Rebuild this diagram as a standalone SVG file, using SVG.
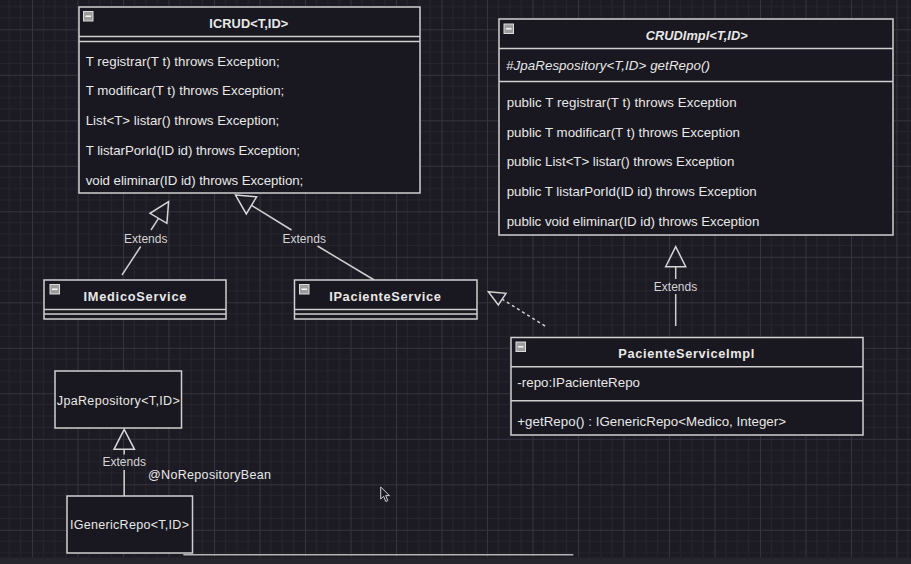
<svg xmlns="http://www.w3.org/2000/svg" width="911" height="564" viewBox="0 0 911 564">
<style>
.box{fill:#19171f;stroke:#cfcfcf;stroke-width:1.5}
.ln{stroke:#cfcfcf;stroke-width:1.5;fill:none}
.tri{fill:none;stroke:#d6d6d6;stroke-width:1.5;stroke-linejoin:miter}
.t{font-family:"Liberation Sans",Arial,sans-serif;font-size:13.3px;fill:#e8e8e8}
.s{font-size:12.5px}
.b{font-weight:bold;font-size:12.8px}
.i{font-style:italic}
.lbl{font-family:"Liberation Sans",Arial,sans-serif;font-size:12px;fill:#d4d4d4;text-anchor:middle}
.icon{fill:#9c9c9c;stroke:#dcdcdc;stroke-width:1}
.dash{stroke:#f2f2f2;stroke-width:1.6}
</style>
<defs>
<pattern id="grid" x="32" y="29.3" width="45.5" height="45.5" patternUnits="userSpaceOnUse">
<path d="M11.375 0V45.5M22.75 0V45.5M34.125 0V45.5M0 11.375H45.5M0 22.75H45.5M0 34.125H45.5" stroke="#26242d" stroke-width="1"/>
<path d="M0.5 0V45.5M0 0.5H45.5" stroke="#35333d" stroke-width="1"/>
</pattern>
<g id="minus">
<rect class="icon" x="0" y="0" width="9.5" height="9.5"/>
<line class="dash" x1="2" y1="4.75" x2="7.5" y2="4.75"/>
</g>
</defs>
<rect x="0" y="0" width="911" height="564" fill="#1c1a23"/>
<rect x="0" y="0" width="911" height="557" fill="url(#grid)"/>
<rect x="0" y="557.5" width="911" height="6.5" fill="#26242c"/>

<g id="connectors">
<!-- IMedicoService -> ICRUD -->
<line class="ln" x1="122" y1="275" x2="140.7" y2="246.5"/>
<line class="ln" x1="151" y1="230" x2="158.5" y2="218.3"/>
<polygon class="tri" points="168.6,201.7 150,213.3 166.9,223.3"/>
<text class="lbl" x="145.8" y="242.6">Extends</text>
<!-- IPacienteService -> ICRUD -->
<line class="ln" x1="374.2" y1="280" x2="317.5" y2="246"/>
<line class="ln" x1="291.5" y1="230" x2="251.5" y2="205.3"/>
<polygon class="tri" points="235.5,195 256.6,196.8 246.3,213.9"/>
<text class="lbl" x="304.2" y="242.6">Extends</text>
<!-- PacienteServiceImpl ..> IPacienteService -->
<line class="ln" x1="545" y1="326" x2="502.2" y2="299.2" stroke-dasharray="3 3"/>
<polygon class="tri" points="488.3,291.7 506,293.3 498.3,305"/>
<!-- PacienteServiceImpl -> CRUDImpl -->
<line class="ln" x1="675.7" y1="326" x2="675.7" y2="294"/>
<line class="ln" x1="675.7" y1="279" x2="675.7" y2="266.7"/>
<polygon class="tri" points="675.7,246.7 665.7,266.7 685.7,266.7"/>
<text class="lbl" x="675.5" y="291">Extends</text>
<!-- IGenericRepo -> JpaRepository -->
<line class="ln" x1="124.2" y1="449.3" x2="124.2" y2="454.5"/>
<line class="ln" x1="124.2" y1="470" x2="124.2" y2="496"/>
<polygon class="tri" points="124.2,429.3 114,449.3 134.5,449.3"/>
<text class="lbl" x="124.2" y="466">Extends</text>
</g>

<g id="ICRUD">
<rect class="box" x="79" y="7" width="341" height="186"/>
<line class="ln" x1="79" y1="36.5" x2="420" y2="36.5"/>
<line class="ln" x1="79" y1="41.5" x2="420" y2="41.5"/>
<use href="#minus" x="83.5" y="11.5"/>
<text class="t b" x="209.3" y="28" textLength="79" lengthAdjust="spacing">ICRUD&lt;T,ID&gt;</text>
<text class="t" x="85.7" y="66.4" textLength="194" lengthAdjust="spacing">T registrar(T t) throws Exception;</text>
<text class="t" x="85.7" y="95.4" textLength="198.6" lengthAdjust="spacing">T modificar(T t) throws Exception;</text>
<text class="t" x="85.7" y="125.4" textLength="193.6" lengthAdjust="spacing">List&lt;T&gt; listar() throws Exception;</text>
<text class="t" x="85.7" y="155.4" textLength="214.3" lengthAdjust="spacing">T listarPorId(ID id) throws Exception;</text>
<text class="t" x="85.7" y="184.7" textLength="217.6" lengthAdjust="spacing">void eliminar(ID id) throws Exception;</text>
</g>

<g id="CRUDImpl">
<rect class="box" x="499" y="19" width="394" height="216"/>
<line class="ln" x1="499" y1="48.5" x2="893" y2="48.5"/>
<line class="ln" x1="499" y1="81.5" x2="893" y2="81.5"/>
<use href="#minus" x="504" y="24"/>
<text class="t b i" x="645.7" y="39.7" textLength="102" lengthAdjust="spacing">CRUDImpl&lt;T,ID&gt;</text>
<text class="t i" x="506" y="69.7" textLength="204" lengthAdjust="spacing">#JpaRespository&lt;T,ID&gt; getRepo()</text>
<text class="t" x="506.7" y="107.4" textLength="230" lengthAdjust="spacing">public T registrar(T t) throws Exception</text>
<text class="t" x="506.7" y="137.4" textLength="233.3" lengthAdjust="spacing">public T modificar(T t) throws Exception</text>
<text class="t" x="506.7" y="166.4" textLength="227.6" lengthAdjust="spacing">public List&lt;T&gt; listar() throws Exception</text>
<text class="t" x="506.7" y="195.7" textLength="250" lengthAdjust="spacing">public T listarPorId(ID id) throws Exception</text>
<text class="t" x="506.7" y="225.7" textLength="252.6" lengthAdjust="spacing">public void eliminar(ID id) throws Exception</text>
</g>

<g id="IMedicoService">
<rect class="box" x="44" y="280" width="182" height="39"/>
<line class="ln" x1="44" y1="309.5" x2="226" y2="309.5"/>
<line class="ln" x1="44" y1="314" x2="226" y2="314"/>
<use href="#minus" x="50" y="284.5"/>
<text class="t b" x="83.4" y="300.7" textLength="103" lengthAdjust="spacing">IMedicoService</text>
</g>

<g id="IPacienteService">
<rect class="box" x="294.5" y="280" width="182.5" height="39"/>
<line class="ln" x1="294.5" y1="309.5" x2="477" y2="309.5"/>
<line class="ln" x1="294.5" y1="314" x2="477" y2="314"/>
<use href="#minus" x="299.5" y="284.5"/>
<text class="t b" x="329.2" y="300.7" textLength="111.6" lengthAdjust="spacing">IPacienteService</text>
</g>

<g id="PacienteServiceImpl">
<rect class="box" x="511" y="337.5" width="352" height="97.5"/>
<line class="ln" x1="511" y1="366.7" x2="863" y2="366.7"/>
<line class="ln" x1="511" y1="400.7" x2="863" y2="400.7"/>
<use href="#minus" x="516" y="342"/>
<text class="t b" x="618.3" y="358" textLength="136" lengthAdjust="spacing">PacienteServiceImpl</text>
<text class="t" x="517.3" y="387.4" textLength="122.7" lengthAdjust="spacing">-repo:IPacienteRepo</text>
<text class="t" x="517.3" y="426.4" textLength="268.7" lengthAdjust="spacing">+getRepo() : IGenericRepo&lt;Medico, Integer&gt;</text>
</g>

<g id="JpaRepository">
<rect class="box" x="55" y="371" width="126.5" height="57"/>
<text class="t s" x="56.8" y="405.4" textLength="123" lengthAdjust="spacing">JpaRepository&lt;T,ID&gt;</text>
</g>

<g id="IGenericRepo">
<rect class="box" x="67" y="496" width="125.5" height="57"/>
<text class="t s" x="70" y="528.7" textLength="119" lengthAdjust="spacing">IGenericRepo&lt;T,ID&gt;</text>
</g>

<text class="t s" x="148" y="478.7" textLength="123" lengthAdjust="spacing">@NoRepositoryBean</text>
<line x1="183.3" y1="554.7" x2="573.3" y2="554.7" stroke="#b4b4b4" stroke-width="1.5"/>
<polygon points="380.7,487 380.7,499 383.6,496.3 385.8,501.5 387.8,500.6 385.7,495.6 389.5,495.6" fill="#1c1a23" stroke="#d0d0d0" stroke-width="1"/>
</svg>
